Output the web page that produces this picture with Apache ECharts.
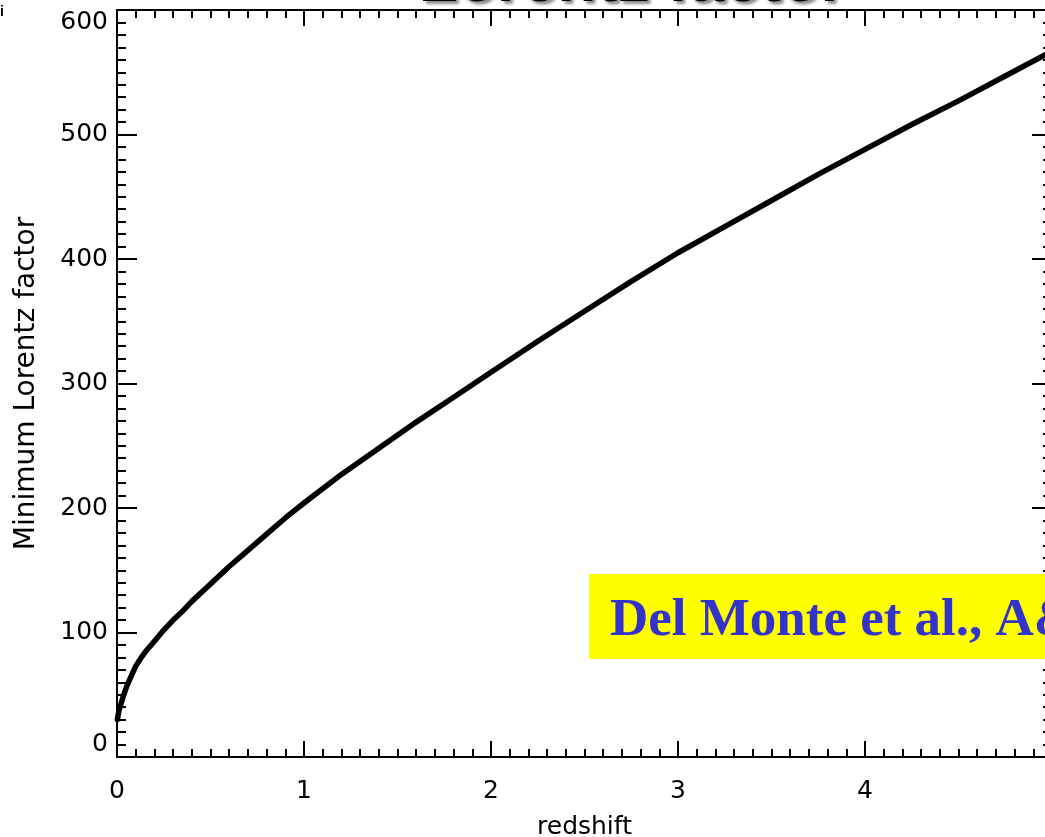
<!DOCTYPE html>
<html>
<head>
<meta charset="utf-8">
<title>Minimum Lorentz factor vs redshift</title>
<script src="https://cdn.jsdelivr.net/npm/echarts@6/dist/echarts.min.js"></script>
<style>
  html, body { margin: 0; padding: 0; background: #fff; }
  #chart { width: 1045px; height: 837px; }
</style>
</head>
<body>
<div id="chart"></div>
<script>
// Minimum bulk Lorentz factor as a function of source redshift
const redshift = [0.002, 0.01, 0.02, 0.03, 0.05, 0.07, 0.1, 0.13, 0.16, 0.2, 0.25, 0.3, 0.35, 0.4, 0.5, 0.6, 0.7, 0.8, 0.9, 1.0, 1.2, 1.4, 1.6, 1.8, 2.0, 2.25, 2.5, 2.75, 3.0, 3.25, 3.5, 3.75, 4.0, 4.25, 4.5, 4.75, 5.0];
const lorentzMin = [30, 37, 42, 47, 56, 63, 73, 80, 86, 93, 102, 110, 117, 125, 139, 153, 166, 179, 192, 204, 227, 248, 269, 289, 309, 334, 358, 382, 405, 426, 447, 468, 488, 508, 527, 547, 567];

const titleText = 'Lorentz factor';
const xAxisTitle = 'redshift';
const yAxisTitle = 'Minimum Lorentz factor';
const referenceText = 'Del Monte et al., A&A';

const points = redshift.map((z, i) => [z, lorentzMin[i]]);

const labelFont = { fontFamily: 'DejaVu Sans', fontSize: 25, color: '#000' };
const axisLine = { show: true, onZero: false, lineStyle: { color: '#000', width: 2 } };

function mirrorX(position, showLabels) {
  return {
    type: 'value', position, min: 0, max: 5, interval: 1,
    axisLine,
    axisTick: { show: true, inside: true, length: 16, lineStyle: { color: '#000', width: 2 } },
    minorTick: { show: true, splitNumber: 10, length: 8, lineStyle: { color: '#000', width: 2 } },
    splitLine: { show: false }, minorSplitLine: { show: false },
    axisLabel: showLabels ? Object.assign({ show: true, margin: 22 }, labelFont) : { show: false }
  };
}

function mirrorY(position, showLabels) {
  return {
    type: 'value', position, min: 0, max: 600, interval: 100,
    axisLine,
    axisTick: { show: true, inside: true, length: 20, lineStyle: { color: '#000', width: 2 } },
    minorTick: { show: true, splitNumber: 10, length: 9, lineStyle: { color: '#000', width: 2 } },
    splitLine: { show: false }, minorSplitLine: { show: false },
    axisLabel: showLabels ? Object.assign({
      show: true, margin: 9,
      verticalAlignMinLabel: 'bottom', verticalAlignMaxLabel: 'top'
    }, labelFont) : { show: false }
  };
}

const xBottom = Object.assign(mirrorX('bottom', true), {
  name: xAxisTitle, nameLocation: 'middle', nameGap: 58, nameMoveOverlap: false,
  nameTextStyle: { fontFamily: 'DejaVu Sans', fontSize: 25, color: '#000' }
});
const yLeft = Object.assign(mirrorY('left', true), {
  name: yAxisTitle, nameLocation: 'middle', nameGap: 76, nameMoveOverlap: false,
  nameTextStyle: { fontFamily: 'DejaVu Sans', fontSize: 28, color: '#000' }
});

const chart = echarts.init(document.getElementById('chart'), null, { renderer: 'canvas' });
chart.setOption({
  backgroundColor: '#fff',
  animation: false,
  grid: { left: 117, top: 10, right: -7, bottom: 80, containLabel: false, outerBoundsMode: 'none' },
  xAxis: [xBottom, mirrorX('top', false)],
  yAxis: [yLeft, mirrorY('right', false)],
  series: [{
    type: 'line',
    data: points,
    smooth: false,
    showSymbol: false,
    clip: true,
    lineStyle: { color: '#000', width: 5.5, join: 'round', cap: 'round' }
  }],
  graphic: [
    {
      type: 'text', x: 632, y: -17, z: 20,
      style: {
        text: titleText, font: 'bold 64px "Liberation Sans"', fill: '#000',
        align: 'center', verticalAlign: 'middle',
        textShadowColor: 'rgba(0,0,0,0.45)', textShadowBlur: 3,
        textShadowOffsetX: 3, textShadowOffsetY: 3
      }
    },
    {
      type: 'text', x: 0, y: 12, z: 20,
      style: { text: 'i', font: 'bold 14px "Liberation Sans"', fill: '#000', align: 'left', verticalAlign: 'middle' }
    },
    {
      type: 'rect', x: 589, y: 574, z: 15,
      shape: { x: 0, y: 0, width: 520, height: 85 },
      style: { fill: '#ffff00' }
    },
    {
      type: 'text', x: 610, y: 621, z: 16,
      style: {
        text: referenceText, font: 'bold 53px "Liberation Serif"', fill: '#3333cc',
        align: 'left', verticalAlign: 'middle'
      }
    }
  ]
});
</script>
</body>
</html>
